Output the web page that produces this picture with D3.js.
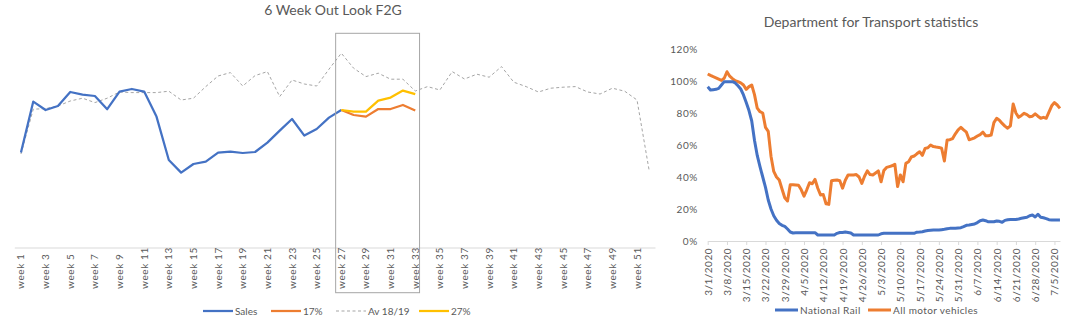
<!DOCTYPE html>
<html>
<head>
<meta charset="utf-8">
<script src="https://cdn.jsdelivr.net/npm/d3@7"></script>
<style>
html,body{margin:0;padding:0;background:#fff;}
svg{display:block;font-family:Lato,"Open Sans",sans-serif;}
</style>
</head>
<body>
<svg id="chart" width="1088" height="330"></svg>
<script>
// ---------- Left chart data ----------
const weeks = d3.range(1, 53).map(i => "week " + i);
const salesValues = [47.7,73.2,69,71,78,76.7,76,69.4,78.2,79.5,78.2,65.7,44,37.7,42,43.2,47.7,48.2,47.5,48,52.7,58.7,64.5,56.2,59.5,65.2,69];
const f17Weeks = ["week 27","week 28","week 29","week 30","week 31","week 32","week 33"];
const f17Values = [69,66.5,65.7,69.5,69.5,71.5,68.7];
const f27Values = [69,68.2,68.2,73.7,75.2,78.7,76.9];
const avValues = [47,69.4,69.7,71,73.5,74.9,72.7,74.9,78,77.7,77.7,77.7,78.4,74,74.9,80.7,86,87.7,81,86.2,88.2,75.7,84,82,81,89.4,97.4,89.9,85.7,87.4,84.4,84.4,78.5,80.7,79,88.2,84.5,86.9,85.4,90.7,82.9,80.7,78,79.9,80.4,80.7,78,77,79.9,78.4,74,38.2];
const weekTickLabels = weeks.filter((w, i) => i % 2 === 0);
const boxWeeks = ["week 27", "week 33"];

// ---------- Right chart data ----------
const startDate = new Date(2020, 2, 1);
const lastTickDate = new Date(2020, 6, 5);
const railValues = [96.4,94.4,94.6,94.8,95.4,97.5,99.6,99.6,99.6,99.6,98.8,97,95,91.3,86.5,81.5,75,63,53.5,46.5,40,33.5,25.6,20,15.8,13,11,9.8,9.1,7.5,5.6,5,
5.2,5.2,5.2,5.2,5.2,5.2,5.2,5.2,
3.75,3.75,3.75,3.75,3.75,3.75,3.75,
4.8,5.3,5.3,5.6,5.3,5,
3.75,3.75,3.75,3.75,3.75,3.75,3.75,3.75,3.75,3.75,
4.5,
4.8,4.8,4.8,4.8,4.8,4.8,4.8,4.8,4.8,4.8,4.8,4.8,
5.5,5.6,5.8,6.2,6.5,6.7,6.9,6.9,6.9,7.1,7.3,7.6,7.9,7.9,7.9,8.1,8.3,9,9.8,10,10.3,10.6,11.5,12.7,13.1,12.7,12,12,12,12.5,12.3,11.7,12.9,13.3,13.5,13.5,13.5,13.8,14.2,14.5,14.8,15.8,16.2,15,16.7,14.8,14.5,14,13.3,13.1,13.1,13.1,13.1];
const motorValues = [104.4,103.5,102.7,102,101.2,100.4,101.7,105.8,103,101.5,100.2,99.6,98.8,97.5,94.8,96.5,97.5,91.5,83,80.8,80,71,68.5,53,43.5,40,38.1,32.5,27,25,
35.2,35.2,35,34.8,32,28,32,36.4,35.8,38.5,33,28.8,29,23.3,22.9,37.7,38,38.1,37.7,33,38,41.25,41.25,41.25,41.5,40,36,40.5,43.8,41.5,41.25,42.5,43.8,37,44,
46,46.5,47,48,34,41.3,37,48.5,49.5,52.5,53.1,54.5,55.8,53.5,57.9,58.3,60,59,58.7,58.5,58,50,63.1,63.3,64,67,69.5,71,69.4,68,63.3,63.8,64.5,65.6,66.5,68,65.8,65.8,66.2,74,76.7,75.5,73.5,71.8,70.5,72,85.6,80,77.3,78.5,79.8,79,77.7,78,79.5,78,76.7,77.3,76.7,80.5,84.5,86.5,85,82.9];
const pctTicks = [0, 0.2, 0.4, 0.6, 0.8, 1.0, 1.2];

const C = {blue:"#4472C4", orange:"#ED7D31", yellow:"#FFC000", grey:"#A5A5A5", text:"#595959", axis:"#D9D9D9"};

const svg = d3.select("#chart");

// ================= LEFT CHART =================
const L = {left:14.8, right:655.5, top:30, bottom:248};
const xL = d3.scaleBand().domain(weeks).range([L.left, L.right]).paddingInner(0).paddingOuter(0);
const cx = w => xL(w) + xL.bandwidth() / 2;
const yL = d3.scaleLinear().domain([0, 109]).range([L.bottom, L.top]);

svg.append("text").attr("x", 333).attr("y", 15).attr("text-anchor", "middle")
  .attr("font-size", 14).attr("fill", C.text).text("6 Week Out Look F2G");

svg.append("line").attr("x1", L.left).attr("x2", L.right).attr("y1", L.bottom).attr("y2", L.bottom)
  .attr("stroke", C.axis).attr("stroke-width", 1);

svg.append("g").selectAll("text").data(weekTickLabels).join("text")
  .attr("transform", d => `translate(${cx(d)},289) rotate(-90)`)
  .attr("dy", "0.35em").attr("text-anchor", "start")
  .attr("font-size", 10).attr("letter-spacing", "0.6px").attr("fill", C.text).text(d => d);

const lineL = d3.line().x(d => cx(d.w)).y(d => yL(d.v));
svg.append("path").datum(avValues.map((v, i) => ({w: weeks[i], v})))
  .attr("d", lineL).attr("fill", "none").attr("stroke", C.grey).attr("stroke-width", 1)
  .attr("stroke-dasharray", "3,2.5");
svg.append("path").datum(salesValues.map((v, i) => ({w: weeks[i], v})))
  .attr("d", lineL).attr("fill", "none").attr("stroke", C.blue).attr("stroke-width", 2.25).attr("stroke-linejoin", "round");
svg.append("path").datum(f17Values.map((v, i) => ({w: f17Weeks[i], v})))
  .attr("d", lineL).attr("fill", "none").attr("stroke", C.orange).attr("stroke-width", 2.25).attr("stroke-linejoin", "round");
svg.append("path").datum(f27Values.map((v, i) => ({w: f17Weeks[i], v})))
  .attr("d", lineL).attr("fill", "none").attr("stroke", C.yellow).attr("stroke-width", 2.25).attr("stroke-linejoin", "round");

// highlight box
const bx0 = xL(boxWeeks[0]) + 0.5, bx1 = xL(boxWeeks[1]) + xL.bandwidth() * 0.85;
svg.append("rect").attr("x", bx0).attr("y", 33.3).attr("width", bx1 - bx0).attr("height", 292.7 - 33.3)
  .attr("fill", "none").attr("stroke", "#A6A6A6").attr("stroke-width", 1);

// legend left
const legL = [
  {name:"Sales", color:C.blue, x:203, dash:null},
  {name:"17%", color:C.orange, x:271, dash:null},
  {name:"Av 18/19", color:C.grey, x:336, dash:"3,2.5"},
  {name:"27%", color:C.yellow, x:419, dash:null}
];
const gl = svg.append("g");
legL.forEach(d => {
  gl.append("line").attr("x1", d.x).attr("x2", d.x + 30).attr("y1", 311).attr("y2", 311)
    .attr("stroke", d.color).attr("stroke-width", d.dash ? 1 : 2.25).attr("stroke-dasharray", d.dash);
  gl.append("text").attr("x", d.x + 32).attr("y", 311).attr("dy", "0.35em")
    .attr("font-size", 10).attr("fill", C.text).text(d.name);
});

// ================= RIGHT CHART =================
const R = {left:707.7, top:49, bottom:241};
const dates = railValues.map((v, i) => d3.timeDay.offset(startDate, i));
const endDate = dates[dates.length - 1];
const xR = d3.scaleTime().domain([startDate, endDate]).range([R.left, R.left + 128 * 2.752]);
const yR = d3.scaleLinear().domain([0, 1.2]).range([R.bottom, R.top]);

svg.append("text").attr("x", 871).attr("y", 27).attr("text-anchor", "middle")
  .attr("font-size", 14).attr("fill", C.text).text("Department for Transport statistics");

const yAxisR = d3.axisLeft(yR).tickValues(pctTicks).tickFormat(d3.format(".0%")).tickSize(0).tickPadding(10);
const gy = svg.append("g").attr("transform", `translate(${R.left},0)`).call(yAxisR);
gy.select(".domain").remove();
gy.selectAll("text").attr("font-size", 10).attr("fill", C.text).attr("font-family", "Lato,'Open Sans',sans-serif").attr("letter-spacing", "0.5px");

const dateTicks = d3.timeWeek.range(startDate, d3.timeDay.offset(lastTickDate, 1));
const fmt = d3.timeFormat("%-m/%-d/%Y");
const xAxisR = d3.axisBottom(xR).tickValues(dateTicks).tickFormat(fmt).tickSize(4).tickSizeOuter(0);
const gx = svg.append("g").attr("transform", `translate(0,${R.bottom})`).call(xAxisR);
gx.select(".domain").attr("stroke", C.axis);
gx.selectAll(".tick line").attr("stroke", C.axis);
gx.selectAll("text").attr("font-size", 10).attr("fill", C.text).attr("font-family", "Lato,'Open Sans',sans-serif")
  .attr("letter-spacing", "0.5px")
  .attr("text-anchor", "end").attr("transform", "rotate(-90)")
  .attr("x", -7).attr("y", 0).attr("dy", "0.35em");

const lineR = d3.line().x(d => xR(d.d)).y(d => yR(d.v / 100)).curve(d3.curveLinear);
svg.append("path").datum(motorValues.map((v, i) => ({d: dates[i], v})))
  .attr("d", lineR).attr("fill", "none").attr("stroke", C.orange).attr("stroke-width", 3).attr("stroke-linejoin", "round");
svg.append("path").datum(railValues.map((v, i) => ({d: dates[i], v})))
  .attr("d", lineR).attr("fill", "none").attr("stroke", C.blue).attr("stroke-width", 3).attr("stroke-linejoin", "round");

// legend right
const legR = [
  {name:"National Rail", color:C.blue, x:775},
  {name:"All motor vehicles", color:C.orange, x:868}
];
const gr = svg.append("g");
legR.forEach(d => {
  gr.append("line").attr("x1", d.x).attr("x2", d.x + 23).attr("y1", 310).attr("y2", 310)
    .attr("stroke", d.color).attr("stroke-width", 3);
  gr.append("text").attr("x", d.x + 25).attr("y", 310).attr("dy", "0.35em")
    .attr("font-size", 10).attr("letter-spacing", "0.4px").attr("fill", C.text).text(d.name);
});
</script>
</body>
</html>
